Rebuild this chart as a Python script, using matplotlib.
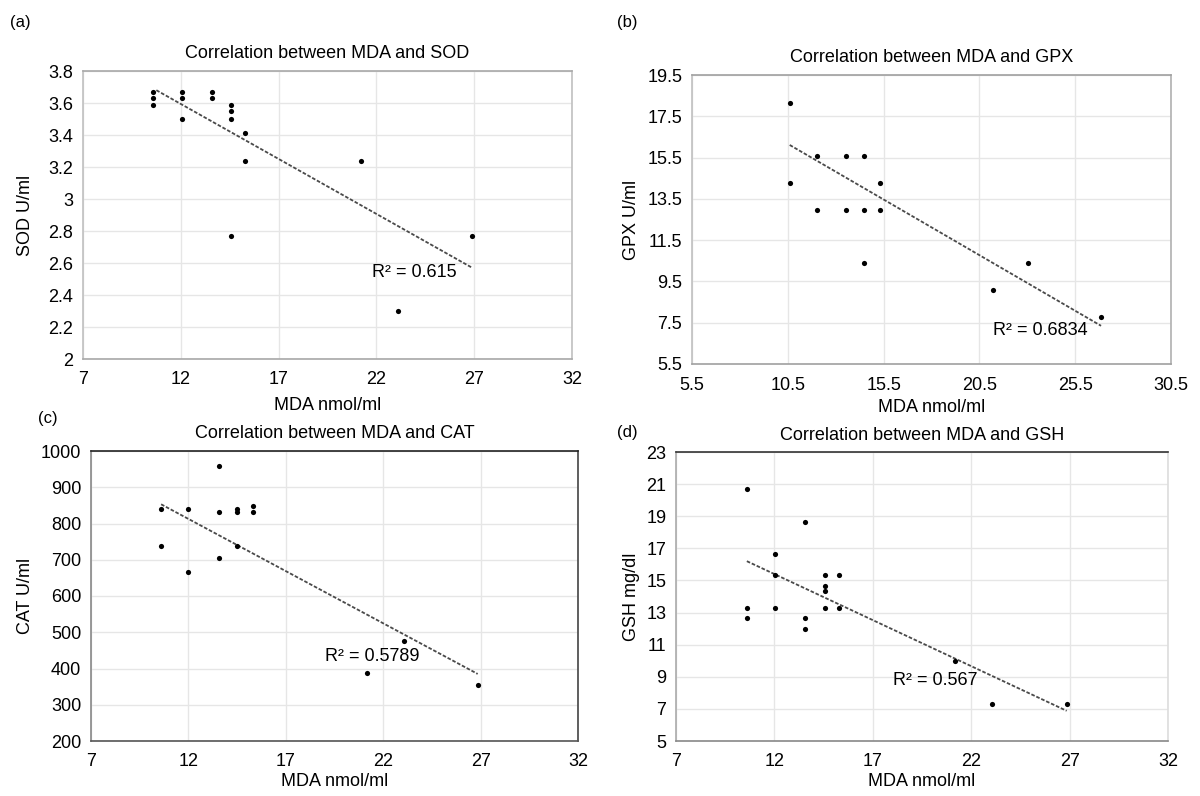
import numpy as np
import matplotlib
matplotlib.use("Agg")
import matplotlib.pyplot as plt
from matplotlib.ticker import FuncFormatter

plt.rcParams['font.family'] = ['Liberation Sans', 'DejaVu Sans']

# ---------------- data ----------------
sod_x = [10.6, 10.6, 10.6, 12.05, 12.05, 12.05, 13.6, 13.6, 14.55, 14.55, 14.55, 14.55,
         15.3, 15.3, 21.2, 23.1, 26.9]
sod_y = [3.67, 3.63, 3.59, 3.67, 3.63, 3.50, 3.67, 3.63, 3.59, 3.55, 3.50, 2.77,
         3.41, 3.24, 3.24, 2.30, 2.77]
sod_trend_x = [10.75, 26.9]
sod_trend_y = [3.68, 2.57]

gpx_x = [10.6, 10.6, 12.05, 12.05, 13.55, 13.55, 14.5, 14.5, 14.5, 15.3, 15.3, 21.2, 23.05, 26.85]
gpx_y = [18.16, 14.26, 15.56, 12.97, 15.56, 12.97, 15.56, 12.97, 10.37, 14.26, 12.97, 9.08, 10.37, 7.79]
gpx_trend_x = [10.6, 26.85]
gpx_trend_y = [16.11, 7.35]

cat_x = [10.6, 10.6, 12.0, 12.0, 13.55, 13.55, 13.55, 14.5, 14.5, 14.5, 15.3, 15.3, 21.15, 23.05, 26.85]
cat_y = [840, 737, 840, 666, 960, 833, 705, 841, 832, 737, 849, 832, 387, 475, 355]
cat_trend_x = [10.6, 26.85]
cat_trend_y = [853, 385]

gsh_x = [10.6, 10.6, 10.6, 12.05, 12.05, 12.05, 13.55, 13.55, 13.55, 14.55, 14.55, 14.55, 14.55,
         15.3, 15.3, 21.2, 23.05, 26.85]
gsh_y = [20.7, 13.31, 12.65, 16.67, 15.32, 13.31, 18.66, 12.65, 11.98, 15.32, 14.66, 14.33, 13.31,
         15.32, 13.31, 9.97, 7.32, 7.32]
gsh_trend_x = [10.6, 26.85]
gsh_trend_y = [16.2, 6.88]

titles = ["Correlation between MDA and SOD", "Correlation between MDA and GPX",
          "Correlation between MDA and CAT", "Correlation between MDA and GSH"]
ylabels = ["SOD U/ml", "GPX U/ml", "CAT U/ml", "GSH mg/dl"]
xlabel = "MDA nmol/ml"
panel_labels = ["(a)", "(b)", "(c)", "(d)"]
r2_texts = ["R\u00b2 = 0.615", "R\u00b2 = 0.6834", "R\u00b2 = 0.5789", "R\u00b2 = 0.567"]
r2_pos = [(21.77, 2.54), (21.2, 7.11), (19.0, 432), (18.04, 8.79)]

x_ticks_std = [7, 12, 17, 22, 27, 32]
x_ticks_gpx = [5.5, 10.5, 15.5, 20.5, 25.5, 30.5]
y_ticks_sod = [2, 2.2, 2.4, 2.6, 2.8, 3, 3.2, 3.4, 3.6, 3.8]
y_ticks_gpx = [5.5, 7.5, 9.5, 11.5, 13.5, 15.5, 17.5, 19.5]
y_ticks_cat = [200, 300, 400, 500, 600, 700, 800, 900, 1000]
y_ticks_gsh = [5, 7, 9, 11, 13, 15, 17, 19, 21, 23]

# ---------------- layout ----------------
W, H = 1200, 796
fig = plt.figure(figsize=(W / 100, H / 100), dpi=100)

def px_axes(left, top, right, bottom):
    return fig.add_axes([left / W, 1 - bottom / H, (right - left) / W, (bottom - top) / H])

boxes = [(83, 71, 572, 359), (692, 75, 1171, 364), (91, 451, 578, 741), (676, 452, 1168, 741)]
panels = [
    (sod_x, sod_y, sod_trend_x, sod_trend_y, x_ticks_std, y_ticks_sod),
    (gpx_x, gpx_y, gpx_trend_x, gpx_trend_y, x_ticks_gpx, y_ticks_gpx),
    (cat_x, cat_y, cat_trend_x, cat_trend_y, x_ticks_std, y_ticks_cat),
    (gsh_x, gsh_y, gsh_trend_x, gsh_trend_y, x_ticks_std, y_ticks_gsh),
]
spine_colors = [
    {'top': '#a8a8a8', 'bottom': '#a8a8a8', 'left': '#c0c0c0', 'right': '#c0c0c0'},
    {'top': '#a0a0a0', 'bottom': '#a0a0a0', 'left': '#c0c0c0', 'right': '#b0b0b0'},
    {'top': '#222222', 'bottom': '#555555', 'left': '#888888', 'right': '#444444'},
    {'top': '#333333', 'bottom': '#888888', 'left': '#aaaaaa', 'right': '#dddddd'},
]
panel_label_pos = [(10, 23), (617, 23), (38, 418), (617, 433)]
ylabel_x = [25, 632, 25, 632]
xlabel_y = [405, 408, 782, 782]

fmt = FuncFormatter(lambda v, p: ('%g' % round(v, 3)))
FS = 13

for i, (box, pan) in enumerate(zip(boxes, panels)):
    xs, ys, tx, ty, xt, yt = pan
    ax = px_axes(*box)
    ax.set_xlim(xt[0], xt[-1])
    ax.set_ylim(yt[0], yt[-1])
    ax.set_xticks(xt)
    ax.set_yticks(yt)
    ax.xaxis.set_major_formatter(fmt)
    ax.yaxis.set_major_formatter(fmt)
    ax.grid(True, color='#e6e6e6', linewidth=1.0)
    ax.set_axisbelow(True)
    ax.tick_params(length=0, labelsize=FS, colors='black')
    ax.tick_params(axis='y', pad=7)
    ax.tick_params(axis='x', pad=9)
    for s, c in spine_colors[i].items():
        ax.spines[s].set_color(c)
        ax.spines[s].set_linewidth(1.2)
    ax.plot(tx, ty, linestyle=(0, (2, 1)), color='#4a4a4a', linewidth=1.3, zorder=2)
    ax.scatter(xs, ys, s=14, color='black', zorder=3, linewidths=0)
    ax.set_title(titles[i], fontsize=FS, pad=9)
    ax.text(r2_pos[i][0], r2_pos[i][1], r2_texts[i], fontsize=FS, ha='left', va='center', zorder=4)
    ax.set_ylabel(ylabels[i], fontsize=FS)
    ax.set_xlabel(xlabel, fontsize=FS)
    left, top, right, bottom = box
    ax.yaxis.set_label_coords((ylabel_x[i] - left) / (right - left), 0.5)
    ax.xaxis.set_label_coords(0.5, (bottom - xlabel_y[i]) / (bottom - top))
    ax.xaxis.label.set_va('center')
    ax.yaxis.label.set_va('center')
    fig.text(panel_label_pos[i][0] / W, 1 - panel_label_pos[i][1] / H, panel_labels[i],
             fontsize=FS - 1, ha='left', va='center')

fig.savefig('out.png', dpi=100, facecolor='white')
